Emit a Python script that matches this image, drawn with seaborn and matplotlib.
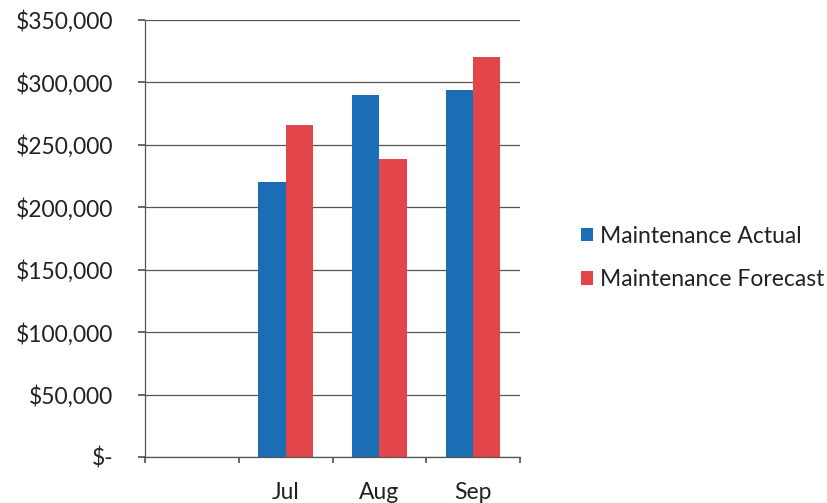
import matplotlib
matplotlib.use("Agg")
import matplotlib.pyplot as plt
import seaborn as sns
import pandas as pd
from matplotlib.ticker import FuncFormatter

# chart data
months = ["Jul", "Aug", "Sep"]
actual = [220000, 290000, 294000]
forecast = [266000, 239000, 320000]
series_names = ["Maintenance Actual", "Maintenance Forecast"]
y_ticks = [0, 50000, 100000, 150000, 200000, 250000, 300000, 350000]

# the first category slot is empty in the original chart
order = [" "] + months

df = pd.DataFrame({
    "month": months * 2,
    "value": actual + forecast,
    "series": [series_names[0]] * len(months) + [series_names[1]] * len(months),
})

sns.set_theme(style="white")
plt.rcParams["font.family"] = ["Lato", "DejaVu Sans"]
text_color = "#222222"
fsize = 16.5

fig = plt.figure(figsize=(8.27, 5.03), dpi=100)
ax = fig.add_axes([145 / 827, 1 - 457 / 503, (520 - 145) / 827, (457 - 20) / 503])

sns.barplot(data=df, x="month", y="value", hue="series", order=order,
            hue_order=series_names, palette=["#1b6db6", "#e2464b"],
            width=0.58, gap=0, saturation=1, linewidth=0, ax=ax, legend=True)

ax.set_ylim(0, 350000)
ax.set_xlim(-0.5, len(order) - 0.5)
ax.set_yticks(y_ticks)
ax.yaxis.set_major_formatter(FuncFormatter(lambda v, p: "$-" if v == 0 else f"${v:,.0f}"))
ax.grid(axis="y", color="#555555", linewidth=0.9)
ax.set_axisbelow(True)

# category boundaries get the tick marks, labels sit in the middle
ax.set_xticks([i - 0.5 for i in range(len(order) + 1)])
ax.set_xticklabels([])
ax.set_xticks(range(len(order)), minor=True)
ax.set_xticklabels(order, minor=True)
ax.tick_params(axis="x", which="major", direction="out", length=4, color="#555555", bottom=True)
ax.tick_params(axis="x", which="minor", length=0, pad=18, labelsize=fsize, labelcolor=text_color)
ax.tick_params(axis="y", direction="out", length=5, color="#555555", left=True, pad=18,
               labelsize=fsize, labelcolor=text_color)

ax.set_xlabel("")
ax.set_ylabel("")
for side in ["top", "right"]:
    ax.spines[side].set_visible(False)
for side in ["left", "bottom"]:
    ax.spines[side].set_color("#555555")
    ax.spines[side].set_linewidth(0.9)

handles, labels = ax.get_legend_handles_labels()
ax.legend_.remove()
fig.legend(handles, labels, loc="center left", bbox_to_anchor=(560 / 827, 1 - 258 / 503),
           frameon=False, fontsize=fsize, handlelength=0.55, handleheight=0.55,
           handletextpad=0.3, labelspacing=1.0, labelcolor=text_color)

fig.savefig("out.png", dpi=100, facecolor="white")
